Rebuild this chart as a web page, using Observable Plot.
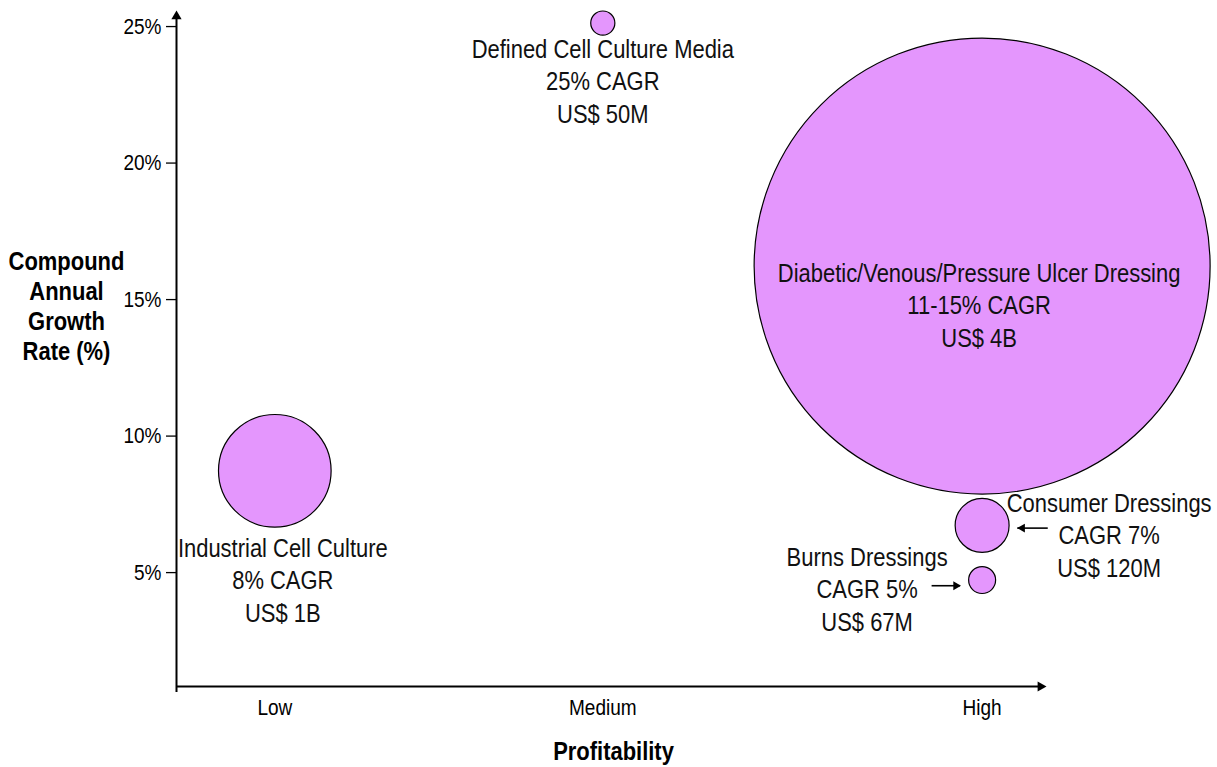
<!DOCTYPE html>
<html>
<head>
<meta charset="utf-8">
<script src="https://cdn.jsdelivr.net/npm/d3@7"></script>
<script src="https://cdn.jsdelivr.net/npm/@observablehq/plot@0.6"></script>
<style>
  html, body { margin: 0; padding: 0; background: #fff; }
  #chart svg { display: block; }
</style>
</head>
<body>
<div id="chart"></div>
<script>
// ---- data ----
const segments = [
  "Defined Cell Culture Media",
  "Diabetic/Venous/Pressure Ulcer Dressing",
  "Industrial Cell Culture",
  "Consumer Dressings",
  "Burns Dressings"
];
const profitability = ["Medium", "High", "Low", "High", "High"];
const cagrPosition = [25.0, 16.1, 8.6, 6.6, 4.6];          // bubble centre, % CAGR
const cagrText = ["25% CAGR", "11-15% CAGR", "8% CAGR", "CAGR 7%", "CAGR 5%"];
const marketSize = ["US$ 50M", "US$ 4B", "US$ 1B", "US$ 120M", "US$ 67M"];
const bubbleSize = [0.28, 100, 6.1, 1.4, 0.35];           // relative bubble area

const profitLevels = ["Low", "Medium", "High"];
const profitIndex = [11.3, 49.0, 92.6];                   // position of each level on a 0–100 axis
const yTicks = [5, 10, 15, 20, 25];
const yTickLabels = ["5%", "10%", "15%", "20%", "25%"];
const axisX = [0, 100];
const axisY = [0.7, 25.46];

const bubbles = segments.map((s, i) => ({
  segment: s,
  x: profitIndex[profitLevels.indexOf(profitability[i])],
  y: cagrPosition[i],
  size: bubbleSize[i],
  label: s + "\n" + cagrText[i] + "\n" + marketSize[i]
}));
const bySeg = name => bubbles.filter(d => d.segment === name);

// annotation arrows (offsets from the bubble along profitability axis)
const arrowFrom = { "Consumer Dressings": 7.6, "Burns Dressings": -5.75 };
const arrowTo = { "Consumer Dressings": 4.1, "Burns Dressings": -2.5 };

const FONT = "'Liberation Sans Narrow', 'Arial Narrow', 'Liberation Sans', Arial, sans-serif";
const NARROW = 0.845;   // horizontal condensing to imitate a narrow face
const FILL = "#e496fd";

function label(name, dx, dy) {
  return Plot.text(bySeg(name), {
    x: "x", y: "y", text: "label",
    dx, dy, lineAnchor: "middle", textAnchor: "middle",
    lineHeight: 1.25, fontSize: 26, fontFamily: FONT, fill: "#111"
  });
}
function arrowNote(name, dy, rotate) {
  const d = bySeg(name).map(b => ({ x1: b.x + arrowFrom[name], x2: b.x + arrowTo[name], y: b.y }));
  const dir = Math.sign(arrowTo[name] - arrowFrom[name]);
  return [
    Plot.ruleY(d, { x1: "x1", x2: "x2", y: "y", dy, stroke: "#000", strokeWidth: 1.6 }),
    Plot.dot(d, { x: "x2", y: "y", dy, dx: -dir * 4.5, symbol: "triangle", rotate, r: 3.3, fill: "#000", stroke: "none" })
  ];
}

const chart = Plot.plot({
  width: 1217,
  height: 767,
  marginLeft: 176,
  marginRight: 171,
  marginTop: 10,
  marginBottom: 81,
  style: { fontFamily: FONT, background: "#fff", color: "#000" },
  x: { domain: axisX, axis: null },
  y: { domain: axisY, axis: null },
  r: { type: "sqrt", domain: [0, 100], range: [0, 228] },
  marks: [
    // axes
    Plot.ruleX([axisX[0]], { y1: axisY[0], y2: axisY[1], stroke: "#000", strokeWidth: 2, insetBottom: -3, insetTop: 6 }),
    Plot.ruleY([axisY[0]], { x1: axisX[0], x2: axisX[1], stroke: "#000", strokeWidth: 2, insetRight: 6 }),
    Plot.dot([{ x: axisX[0], y: axisY[1] }], { x: "x", y: "y", symbol: "triangle", r: 3.8, dy: 5.9, fill: "#000", stroke: "none" }),
    Plot.dot([{ x: axisX[1], y: axisY[0] }], { x: "x", y: "y", symbol: "triangle", rotate: 90, r: 3.8, dx: -5.9, fill: "#000", stroke: "none" }),
    Plot.axisY(yTicks, {
      anchor: "left", label: null, tickSize: 10, tickPadding: 5, fontSize: 22.5, dy: 3.5,
      tickFormat: (d, i) => yTickLabels[i], strokeWidth: 1.3, fill: "#000"
    }),
    Plot.axisX(profitIndex, {
      anchor: "bottom", label: null, tickSize: 0, tickPadding: 13, fontSize: 22.5,
      tickFormat: (d, i) => profitLevels[i], fill: "#000"
    }),
    // axis titles
    Plot.text(["Compound\nAnnual\nGrowth\nRate (%)"], {
      frameAnchor: "left", dx: -110, dy: -43, textAnchor: "middle", lineAnchor: "middle",
      lineHeight: 1.155, fontSize: 26, fontWeight: "bold", fontFamily: FONT, fill: "#000"
    }),
    Plot.text(["Profitability"], {
      frameAnchor: "bottom", dx: 2, dy: 55, textAnchor: "middle", lineAnchor: "top",
      fontSize: 26, fontWeight: "bold", fontFamily: FONT, fill: "#000"
    }),
    // bubbles
    Plot.dot(bubbles, { x: "x", y: "y", r: "size", fill: FILL, stroke: "#000", strokeWidth: 1.2 }),
    // labels
    label("Defined Cell Culture Media", 0, 57),
    label("Diabetic/Venous/Pressure Ulcer Dressing", -3, 38),
    label("Industrial Cell Culture", 8, 108),
    label("Consumer Dressings", 127, 8.5),
    label("Burns Dressings", -115, 8),
    // arrows
    ...arrowNote("Consumer Dressings", 2.7, -90),
    ...arrowNote("Burns Dressings", 5.7, 90)
  ]
});

// condense every text horizontally around its anchor (narrow typeface look)
chart.querySelectorAll("text").forEach(t => {
  const tr = t.getAttribute("transform");
  if (tr) {
    t.setAttribute("transform", tr + ` scale(${NARROW},1)`);
  } else {
    const x = +(t.getAttribute("x") || 0), y = +(t.getAttribute("y") || 0);
    t.removeAttribute("x"); t.removeAttribute("y");
    t.setAttribute("transform", `translate(${x},${y}) scale(${NARROW},1)`);
  }
});
document.getElementById("chart").appendChild(chart);
</script>
</body>
</html>
